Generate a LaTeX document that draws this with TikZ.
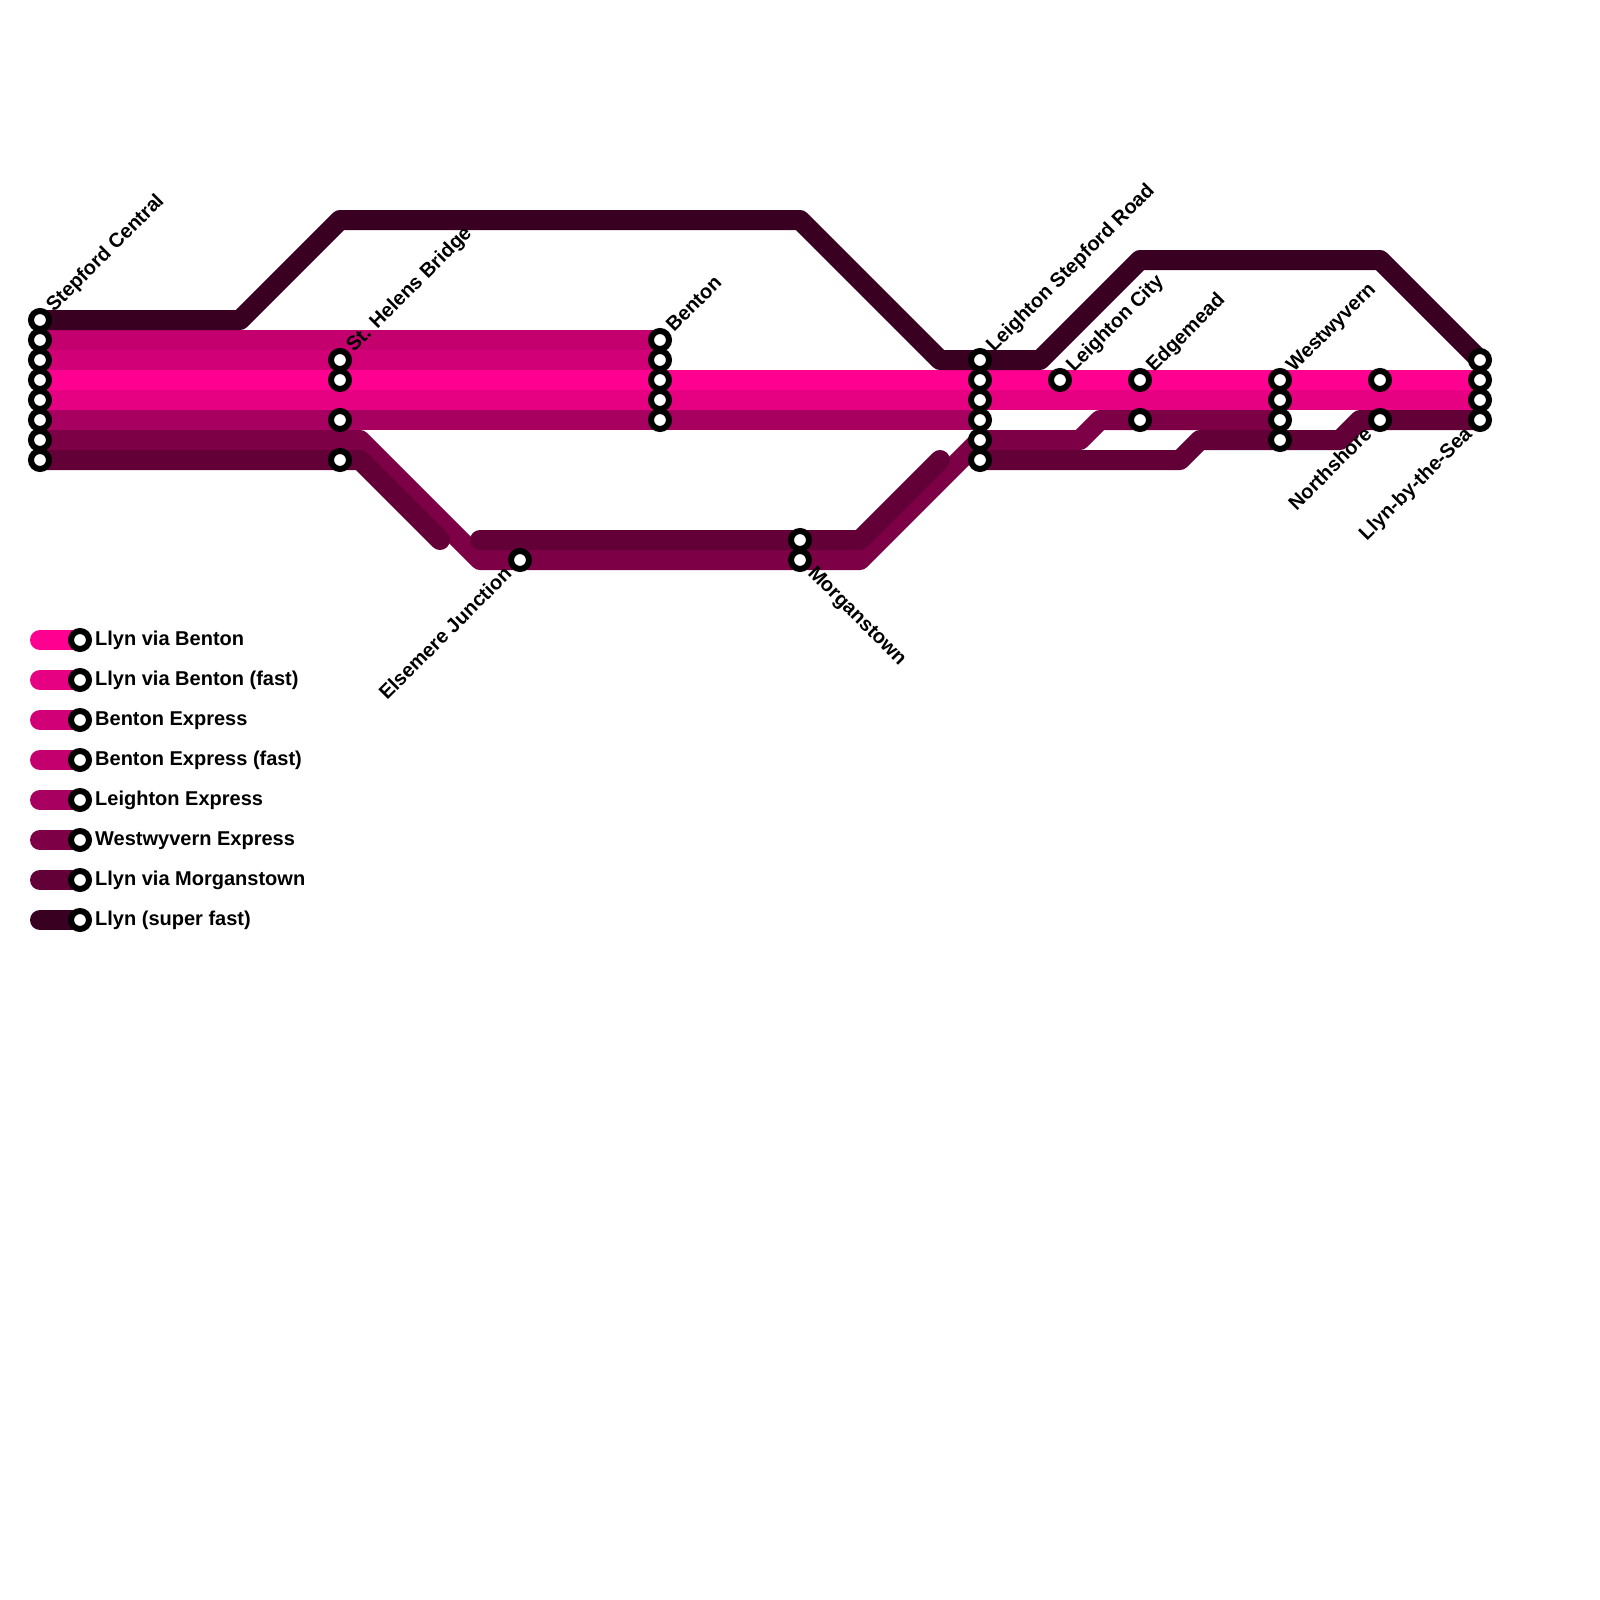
\documentclass[tikz,border=0pt]{standalone}
\usepackage{fontspec}
\setmainfont{Liberation Sans}
\usepackage{tikz}
\usetikzlibrary{backgrounds}
\definecolor{llynBenton}    {HTML}{FF0090}
\definecolor{llynBentonFast}{HTML}{E60082}
\definecolor{bentonExp}     {HTML}{D10076}
\definecolor{bentonExpFast} {HTML}{C3006E}
\definecolor{leightonExp}   {HTML}{A80060}
\definecolor{westExp}       {HTML}{7D0047}
\definecolor{llynMorgan}    {HTML}{620037}
\definecolor{llynSuper}     {HTML}{3A0021}

\begin{document}
\begin{tikzpicture}[
  x=1pt, y=-1pt,
  metro/.style ={line width=20pt, line cap=round, line join=round},
  stn/.style   ={circle, draw=black, fill=white, line width=6pt,
                 minimum size=18pt, inner sep=0pt, outer sep=0pt},
  stnup/.style ={font=\fontsize{20}{24}\selectfont\bfseries, rotate=45,
                 anchor=base west, inner sep=0pt},
  stndn/.style ={font=\fontsize{20}{24}\selectfont\bfseries, rotate=-45,
                 anchor=base west, inner sep=0pt},
  stnbk/.style ={font=\fontsize{20}{24}\selectfont\bfseries, rotate=45,
                 anchor=base east, inner sep=0pt},
  lgtxt/.style ={font=\fontsize{20}{24}\selectfont\bfseries,
                 anchor=base west, inner sep=0pt},
]
  \useasboundingbox (0,0) rectangle (1600,1600);

  % Stations, in columns; the name carries the track height
  \foreach \y in {320,340,...,460} \node[stn] (sc\y) at (40,\y) {};
  \foreach \y in {360,380,420,460} \node[stn] (sh\y) at (340,\y) {};
  \foreach \y in {340,360,...,420} \node[stn] (bn\y) at (660,\y) {};
  \foreach \y in {540,560}         \node[stn] (mg\y) at (800,\y) {};
  \foreach \y in {360,380,...,460} \node[stn] (ls\y) at (980,\y) {};
  \foreach \y in {380,420}         \node[stn] (ed\y) at (1140,\y) {};
  \foreach \y in {380,400,...,440} \node[stn] (ww\y) at (1280,\y) {};
  \foreach \y in {380,420}         \node[stn] (ns\y) at (1380,\y) {};
  \foreach \y in {360,380,...,420} \node[stn] (bs\y) at (1480,\y) {};
  \node[stn] (ej560) at (520,560) {};
  \node[stn] (lc380) at (1060,380) {};

  % Bends of the lines
  \coordinate (sf1) at (240,320);
  \coordinate (sf2) at (340,220);
  \coordinate (sf3) at (800,220);
  \coordinate (sf4) at (940,360);
  \coordinate (sf5) at (1040,360);
  \coordinate (sf6) at (1140,260);
  \coordinate (sf7) at (1380,260);
  \coordinate (we1) at (360,440);
  \coordinate (we2) at (480,560);
  \coordinate (we3) at (860,560);
  \coordinate (we4) at (1080,440);
  \coordinate (we5) at (1100,420);
  \coordinate (lm1) at (360,460);
  \coordinate (lm2) at (440,540);
  \coordinate (lm3) at (480,540);
  \coordinate (lm4) at (860,540);
  \coordinate (lm5) at (940,460);
  \coordinate (lm6) at (1180,460);
  \coordinate (lm7) at (1200,440);
  \coordinate (lm8) at (1340,440);
  \coordinate (lm9) at (1360,420);

  % Lines go under the stations, lightest first
  \begin{scope}[on background layer]
    \draw[metro, llynBenton]     (sc380.center) -- (bs380.center);
    \draw[metro, llynBentonFast] (sc400.center) -- (bs400.center);
    \draw[metro, bentonExp]      (sc360.center) -- (bn360.center);
    \draw[metro, bentonExpFast]  (sc340.center) -- (bn340.center);
    \draw[metro, leightonExp]    (sc420.center) -- (ls420.center);
    \draw[metro, westExp]        (sc440.center) -- (we1) -- (we2) -- (we3)
      -- (ls440.center) -- (we4) -- (we5) -- (ww420.center);
    \draw[metro, llynMorgan]     (sc460.center) -- (lm1) -- (lm2);
    \draw[metro, llynMorgan]     (lm3) -- (lm4) -- (lm5);
    \draw[metro, llynMorgan]     (ls460.center) -- (lm6) -- (lm7) -- (lm8)
      -- (lm9) -- (bs420.center);
    \draw[metro, llynSuper]      (sc320.center) -- (sf1) -- (sf2) -- (sf3)
      -- (sf4) -- (sf5) -- (sf6) -- (sf7) -- (bs360.center);
  \end{scope}

  % Station names
  \node[stnup] (scname) at (54,313)   {Stepford Central};
  \node[stnup] (shname) at (354,353)  {St. Helens Bridge};
  \node[stnup] (bnname) at (674,333)  {Benton};
  \node[stnup] (lsname) at (994,353)  {Leighton Stepford Road};
  \node[stnup] (lcname) at (1074,373) {Leighton City};
  \node[stnup] (edname) at (1154,373) {Edgemead};
  \node[stnup] (wwname) at (1294,373) {Westwyvern};
  \node[stndn] (mgname) at (807,574)  {Morganstown};
  \node[stnbk] (ejname) at (513,575)  {Elsemere Junction};
  \node[stnbk] (nsname) at (1373,435) {Northshore};
  \node[stnbk] (bsname) at (1473,435) {Llyn-by-the-Sea};

  % Legend
  \foreach \y/\lcol/\ltxt in {
    640/llynBenton/Llyn via Benton,
    680/llynBentonFast/Llyn via Benton (fast),
    720/bentonExp/Benton Express,
    760/bentonExpFast/Benton Express (fast),
    800/leightonExp/Leighton Express,
    840/westExp/Westwyvern Express,
    880/llynMorgan/Llyn via Morganstown,
    920/llynSuper/Llyn (super fast)} {
    \node[stn] (lg\y) at (80,\y) {};
    \coordinate (lgs\y) at (40,\y);
    \begin{scope}[on background layer]
      \draw[metro, \lcol] (lgs\y) -- (lg\y.center);
    \end{scope}
    \node[lgtxt] (lgt\y) at (95,\y+5) {\ltxt};
  }
\end{tikzpicture}
\end{document}
